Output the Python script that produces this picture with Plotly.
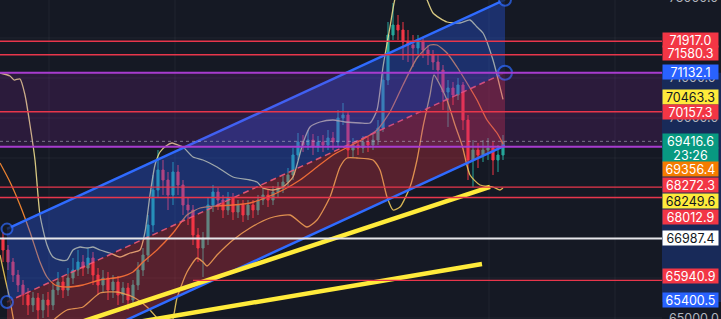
import plotly.graph_objects as go

# ---------------- data ----------------
first_open = 67000.0
closes = [66700, 66400, 66075, 65825, 65575, 65325, 65500, 65200, 65450, 65325,
          65700, 65900, 65700, 66000, 66200, 66400, 66250, 66500, 66075, 65825,
          66000, 65700, 65900, 65575, 65750, 65450, 65825, 66200, 66575, 67325,
          68200, 68700, 68450, 68075, 68650, 68325, 67825, 67700, 67075, 66750,
          67000, 67825, 68150, 67950, 67700, 68000, 67650, 67825, 67575, 67825,
          67700, 67950, 68075, 67950, 68150, 68250, 68400, 68575, 69075, 69400,
          69325, 69450, 69275, 69400, 69325, 69500, 69400, 70000, 70075, 69200,
          69325, 69250, 69400, 69325, 69450, 69750, 70950, 72075, 72325, 72200,
          71900, 71825, 71750, 71900, 71700, 71575, 71400, 71200, 70650, 70750,
          70575, 70825, 69950, 68950, 69200, 69075, 69200, 69250, 68950, 69075,
          69416.6]
highs = [67150, 66825, 66500, 66200, 65950, 65750, 65650, 65625, 65600, 65650,
         65875, 66150, 66050, 66250, 66500, 66700, 66575, 66750, 66650, 66250,
         66200, 66150, 66075, 66050, 65900, 65875, 65950, 66400, 66750, 67575,
         68575, 69200, 68950, 68650, 68900, 68825, 68450, 68000, 67825, 67250,
         67150, 68000, 68325, 68250, 68075, 68150, 68125, 67950, 67950, 67950,
         67950, 68075, 68250, 68200, 68300, 68400, 68550, 68750, 69250, 69625,
         69575, 69700, 69600, 69550, 69575, 69700, 69650, 70200, 70375, 70150,
         69500, 69450, 69550, 69525, 69600, 69950, 71150, 72400, 72875, 72575,
         72400, 72200, 72075, 72075, 72000, 71825, 71700, 71575, 71325, 70950,
         70900, 71000, 70900, 70075, 69450, 69375, 69450, 69500, 69400, 69325,
         69575]
lows = [66400, 66200, 65900, 65650, 65325, 65075, 65150, 64975, 65000, 65025,
        65200, 65575, 65500, 65550, 65850, 66050, 66050, 66100, 65825, 65575,
        65650, 65450, 65500, 65325, 65375, 65200, 65300, 65700, 66050, 66400,
        67150, 68000, 68075, 67700, 67825, 68075, 67575, 67325, 66825, 66400,
        66025, 66825, 67650, 67700, 67500, 67575, 67450, 67500, 67400, 67450,
        67500, 67575, 67825, 67775, 67825, 68000, 68125, 68250, 68450, 68950,
        69150, 69200, 69075, 69150, 69150, 69200, 69200, 69300, 69825, 69000,
        69025, 69075, 69125, 69150, 69200, 69325, 69650, 70825, 71950, 71950,
        71450, 71400, 71275, 71575, 71500, 71325, 71200, 70950, 70200, 69775,
        70325, 70450, 69700, 68450, 68275, 68750, 68900, 68950, 68575, 68650,
        68950]

bb_upper_x = [-0.6, 1.4, 2.2, 3.4, 4.4, 5.4, 6.4, 7.4, 8.8, 10.0, 11.4, 12.8, 14.0, 15.4, 16.8,
              18.0, 19.4, 21.4, 23.4, 25.4, 27.4, 28.4, 29.4, 30.4, 31.4, 32.6, 33.8, 35.0, 36.0,
              38.0, 40.0, 42.8, 46.0, 49.4, 50.8, 52.0, 54.0, 56.0, 58.0, 60.0, 61.4, 63.4, 66.0,
              68.4, 71.4, 73.4, 74.8, 76.0, 77.4, 78.6, 81.4, 84.4, 86.0, 88.8, 91.4, 93.4, 94.8,
              96.0, 98.0, 100.0]
bb_upper = [71125, 71050, 70950, 70975, 70575, 69825, 68950, 67575, 66825, 66525, 66450, 66450,
            66700, 66775, 66750, 66775, 66700, 66625, 66525, 66625, 66700, 67150, 68075, 68825,
            69150, 69300, 69375, 69325, 69275, 69025, 68950, 68775, 68525, 68450, 68400, 68250,
            68200, 68275, 68525, 69375, 69775, 69900, 69950, 69900, 69875, 69875, 70200, 71275,
            72275, 73075, 73700, 73075, 72625, 72400, 72375, 72450, 72275, 72125, 71450, 70463.3]
bb_basis_x = [-0.6, 1.4, 3.4, 5.4, 7.4, 8.8, 10.4, 12.8, 16.0, 19.4, 23.4, 26.0, 28.0, 30.8,
              34.0, 36.8, 39.4, 42.4, 46.0, 49.4, 52.4, 56.0, 59.4, 62.8, 66.0, 69.4, 72.4, 74.8,
              77.4, 80.0, 82.8, 85.4, 86.8, 88.8, 90.8, 92.8, 94.8, 96.8, 98.8, 100.0]
bb_basis = [68875, 68400, 67825, 67150, 66400, 66025, 65825, 65775, 65825, 65950, 66025, 66150,
            66400, 66700, 67125, 67575, 67750, 67800, 67825, 67875, 68000, 68200, 68450, 68775,
            69075, 69300, 69500, 69700, 70150, 70825, 71500, 71825, 71825, 71625, 71275, 70875,
            70450, 69950, 69625, 69356.4]
bb_lower_x = [-0.6, 0.4, 1.4, 2.2, 3.4, 6.4, 8.4, 9.8, 10.8, 12.8, 16.0, 19.4, 22.8, 26.0, 28.8,
              30.8, 32.4, 33.8, 34.8, 36.8, 38.8, 40.0, 40.8, 42.8, 46.0, 49.4, 53.4, 57.4, 60.8,
              62.8, 65.4, 67.4, 68.8, 70.8, 74.0, 75.4, 76.8, 78.0, 79.4, 81.4, 82.8, 84.0, 85.4,
              86.2, 87.4, 88.8, 90.4, 91.8, 93.4, 95.4, 98.0, 99.4, 100.0]
bb_lower = [66575, 66000, 65450, 64900, 64325, 63950, 64575, 64900, 65025, 65200, 65275, 65625,
            65650, 65525, 65275, 65000, 64750, 64900, 65500, 66150, 66500, 66400, 66300, 66575,
            66950, 67250, 67500, 67575, 67275, 67450, 68025, 68775, 69000, 69000, 68950, 68700,
            68025, 67700, 67775, 68275, 68950, 69775, 70575, 71075, 70825, 70450, 69825, 69325,
            68575, 68325, 68275, 68200, 68249.6]

# parallel channel (anchors on the midline) and half-width in price
chan_x = [0.8, 100.4]
chan_mid = [65400.5, 71132.1]
chan_half = 1825.0

# trend lines
tl1_x = [11.4, 97.4]
tl1_p = [64725, 68280]
tl2_x = [23.4, 95.8]
tl2_p = [64825, 66350]

# horizontal levels
red_levels = [71917.0, 71580.3, 70157.3, 68272.3, 68012.9, 65940.9]
red_level_start = [None, None, None, None, None, 38]
white_level = 66987.4
box_top, box_bottom = 71132.1, 69280.0
last_price = 69416.6

# price-axis labels
label_prices = [71917.0, 71580.3, 71132.1, 70463.3, 70157.3, 69416.6, 69416.6, 69356.4,
                68272.3, 68249.6, 68012.9, 66987.4, 65940.9, 65400.5]
label_texts = ["71917.0", "71580.3", "71132.1", "70463.3", "70157.3", "69416.6", "23:26",
               "69356.4", "68272.3", "68249.6", "68012.9", "66987.4", "65940.9", "65400.5"]
label_kinds = ["red", "red", "blue", "yellow", "red", "green", "green", "orange",
               "red", "yellow", "red", "white", "red", "blue"]
label_nudge = [1.3, 1.3, 0.7, 2.5, 0.2, 0.8, -13.2, -24.8, 2.6, -13, -19.5, 1.0, 3.9, 2.0]

# axis price ticks that peek out from under the labels / at the edges
axis_ticks = [70000, 71000]
edge_ticks = [73000, 65000]
time_grid = [9.2, 34.4, 97.2, 122.4]

# ---------------- styling ----------------
BG = '#151924'
Y_RANGE = [64975, 72950]
X_RANGE = [-0.6, 131.8]
KIND = {
    'red': ('#f23645', '#ffffff'),
    'blue': ('#2962ff', '#ffffff'),
    'yellow': ('#ffeb3b', '#131722'),
    'green': ('#089981', '#ffffff'),
    'orange': ('#f57c00', '#ffffff'),
    'white': ('#ffffff', '#131722'),
}
FONT = 'Inter, Roboto, sans-serif'

opens = [first_open] + closes[:-1]
bars = list(range(len(closes)))

fig = go.Figure()

fig.add_trace(go.Candlestick(
    x=bars, open=opens, high=highs, low=lows, close=closes,
    increasing=dict(line=dict(color='#26a69a', width=1), fillcolor='#26a69a'),
    decreasing=dict(line=dict(color='#f23645', width=1), fillcolor='#f23645'),
    whiskerwidth=0, hoverinfo='skip', showlegend=False))

for xs, ys, col in [(bb_upper_x, bb_upper, 'rgba(236,220,140,0.9)'),
                    (bb_lower_x, bb_lower, 'rgba(236,200,90,0.9)'),
                    (bb_basis_x, bb_basis, 'rgba(245,135,50,0.95)')]:
    fig.add_trace(go.Scatter(x=xs, y=ys, mode='lines',
                             line=dict(color=col, width=1.3, shape='spline', smoothing=0.6),
                             hoverinfo='skip', showlegend=False))

top = [p + chan_half for p in chan_mid]
bot = [p - chan_half for p in chan_mid]
x0, x1 = chan_x
fig.add_trace(go.Scatter(x=[x0, x1, x1, x0, x0], y=[top[0], top[1], chan_mid[1], chan_mid[0], top[0]],
                         mode='lines', fill='toself', fillcolor='rgba(41,98,255,0.33)',
                         line=dict(width=0), hoverinfo='skip', showlegend=False))
fig.add_trace(go.Scatter(x=[x0, x1, x1, x0, x0], y=[chan_mid[0], chan_mid[1], bot[1], bot[0], chan_mid[0]],
                         mode='lines', fill='toself', fillcolor='rgba(242,54,69,0.30)',
                         line=dict(width=0), hoverinfo='skip', showlegend=False))
fig.add_trace(go.Scatter(x=chan_x, y=chan_mid, mode='lines',
                         line=dict(color='rgba(240,90,120,0.9)', width=1.5, dash='6px,4px'),
                         hoverinfo='skip', showlegend=False))
for ys in (top, bot):
    fig.add_trace(go.Scatter(x=chan_x, y=ys, mode='lines', line=dict(color='#2f6bff', width=2.5),
                             hoverinfo='skip', showlegend=False))

shapes = []
# purple box
shapes.append(dict(type='rect', xref='paper', x0=0, x1=1, yref='y', y0=box_bottom, y1=box_top,
                   fillcolor='rgba(156,39,176,0.17)', line=dict(width=0), layer='above'))
for p in (box_top, box_bottom):
    shapes.append(dict(type='line', xref='paper', x0=0, x1=1, yref='y', y0=p, y1=p,
                       line=dict(color='#a83ccf', width=2), layer='above'))
for p, s in zip(red_levels, red_level_start):
    if s is None:
        shapes.append(dict(type='line', xref='paper', x0=0, x1=1, yref='y', y0=p, y1=p,
                           line=dict(color='#e8364b', width=1.4), layer='above'))
    else:
        shapes.append(dict(type='line', xref='x', x0=s, x1=X_RANGE[1], yref='y', y0=p, y1=p,
                           line=dict(color='#e8364b', width=1.4), layer='above'))
shapes.append(dict(type='line', xref='paper', x0=0, x1=1, yref='y', y0=white_level, y1=white_level,
                   line=dict(color='#e6e6ea', width=2), layer='above'))
shapes.append(dict(type='line', xref='paper', x0=0, x1=1, yref='y', y0=last_price, y1=last_price,
                   line=dict(color='rgba(190,190,205,0.55)', width=1, dash='dot'), layer='above'))
for gx in time_grid:
    shapes.append(dict(type='line', xref='x', x0=gx, x1=gx, yref='paper', y0=0, y1=1,
                       line=dict(color='rgba(255,255,255,0.05)', width=1), layer='below'))
# faint horizontal price grid
for gp in range(65000, 73000, 1000):
    shapes.append(dict(type='line', xref='paper', x0=0, x1=1, yref='y', y0=gp, y1=gp,
                       line=dict(color='rgba(255,255,255,0.05)', width=1), layer='below'))
# price axis highlight of the selected channel
shapes.append(dict(type='rect', xref='paper', x0=1.0, x1=1.1, yref='y', y0=chan_mid[0], y1=chan_mid[1],
                   fillcolor='#182a59', line=dict(width=0), layer='below'))

# trend lines
for xs, ps in ((tl1_x, tl1_p), (tl2_x, tl2_p)):
    fig.add_trace(go.Scatter(x=xs, y=ps, mode='lines', line=dict(color='#ffeb3b', width=4.5),
                             hoverinfo='skip', showlegend=False))

# channel handles
fig.add_trace(go.Scatter(x=[x0, x0, x1, x1], y=[top[0], chan_mid[0], top[1], chan_mid[1]],
                         mode='markers',
                         marker=dict(size=[11, 12, 12, 14], color=BG, line=dict(color='#2f6bff', width=2)),
                         hoverinfo='skip', showlegend=False))

annotations = []
for tp in edge_ticks:
    annotations.append(dict(xref='paper', x=1, xanchor='left', yref='paper',
                            y=(tp - Y_RANGE[0]) / (Y_RANGE[1] - Y_RANGE[0]), yanchor='middle',
                            xshift=5, text=f'{tp:.1f}', showarrow=False,
                            font=dict(family=FONT, size=12.5, color='#b2b5be')))
for p, t, k, n in zip(label_prices, label_texts, label_kinds, label_nudge):
    bgc, fc = KIND[k]
    annotations.append(dict(xref='paper', x=1, xanchor='left', yref='y', y=p, yanchor='middle',
                            yshift=n, text=t, showarrow=False, bgcolor=bgc, width=55, height=14,
                            align='center', borderpad=0,
                            font=dict(family=FONT, size=12.5, color=fc)))

fig.update_layout(
    width=721, height=319, margin=dict(l=0, r=59, t=0, b=0),
    paper_bgcolor=BG, plot_bgcolor=BG,
    shapes=shapes, annotations=annotations, boxgap=0.4,
    showlegend=False, hovermode=False,
    xaxis=dict(range=X_RANGE, visible=False, rangeslider=dict(visible=False), fixedrange=True),
    yaxis=dict(range=Y_RANGE, side='right', tickvals=axis_ticks, tickformat='.1f',
               showgrid=False, zeroline=False, showline=False, ticks='',
               ticklabelstandoff=6, tickfont=dict(family=FONT, size=12.5, color='#b2b5be'),
               fixedrange=True),
)

fig.write_html('out.html')
